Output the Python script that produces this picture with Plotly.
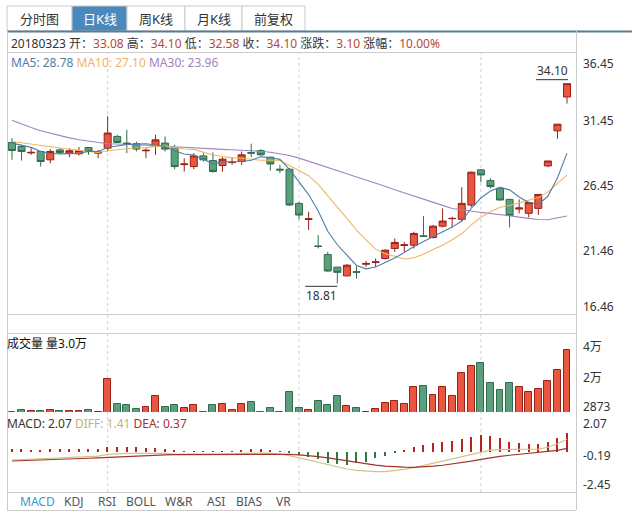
import plotly.graph_objects as go
import pandas as pd

W, H = 632, 515
def px(x): return x / W
def py(y): return 1 - y / H

# ---------------- data ----------------
idx = list(range(59))
opens = [29.60, 29.29, 28.80, 28.91, 28.27, 29.03, 28.78, 28.73, 29.21, 28.78,
         29.16, 30.06, 29.55, 29.50, 28.96, 29.29, 29.55, 29.21, 27.90, 27.75,
         28.57, 28.21, 27.83, 28.06, 28.14, 28.83, 28.98, 28.47, 27.55, 27.55,
         24.93, 23.70, 21.67, 21.01, 20.05, 19.38, 19.70, 20.27, 20.40, 20.71,
         21.48, 21.71, 21.73, 22.45, 22.32, 23.19, 23.76, 23.71, 24.81, 27.50,
         26.68, 26.09, 25.24, 24.50, 24.17, 24.55, 27.80, 30.49, 33.08]
highs = [29.93, 29.42, 29.16, 28.95, 29.09, 29.16, 29.16, 29.24, 29.25, 29.03,
         31.60, 30.19, 30.57, 29.67, 29.16, 30.19, 30.06, 29.42, 28.39, 28.78,
         28.78, 28.83, 28.47, 28.47, 28.91, 29.50, 29.09, 28.50, 27.88, 27.63,
         25.06, 24.29, 22.50, 21.22, 20.07, 20.27, 20.12, 20.53, 20.71, 21.40,
         22.25, 21.99, 22.76, 23.96, 23.27, 24.55, 23.91, 26.17, 27.37, 27.55,
         26.86, 26.17, 25.28, 25.24, 25.06, 25.62, 28.18, 31.00, 34.10]
lows = [28.27, 28.21, 28.65, 27.75, 28.01, 28.70, 28.47, 28.60, 28.65, 28.39,
        28.91, 29.55, 28.78, 28.91, 28.39, 28.65, 28.91, 27.55, 27.37, 27.55,
        28.14, 27.29, 27.37, 27.88, 27.88, 28.47, 28.57, 27.45, 27.24, 24.73,
        23.71, 22.89, 21.48, 19.70, 18.81, 19.35, 19.17, 20.07, 20.07, 20.63,
        21.22, 21.22, 21.48, 22.37, 22.25, 23.09, 23.09, 23.53, 24.63, 26.55,
        26.09, 25.14, 23.09, 24.17, 23.86, 24.04, 27.70, 29.88, 32.58]
closes = [28.98, 28.91, 28.84, 28.14, 28.91, 28.83, 28.96, 28.98, 28.91, 28.86,
          30.32, 29.60, 29.50, 29.09, 29.00, 29.80, 29.09, 27.75, 27.95, 28.57,
          28.27, 27.37, 28.32, 28.08, 28.65, 28.78, 28.65, 27.95, 27.49, 24.81,
          24.04, 23.75, 21.63, 19.75, 19.65, 20.20, 19.66, 20.33, 20.45, 21.35,
          21.94, 21.76, 22.63, 22.40, 23.19, 23.58, 23.78, 24.93, 27.32, 27.11,
          26.22, 25.19, 24.00, 24.58, 25.00, 25.62, 28.18, 31.00, 34.10]
volumes = [3080, 3870, 3180, 3450, 3870, 3270, 3450, 3450, 3870, 2990,
           17420, 6530, 5780, 4390, 5130, 9880, 5130, 5780, 4760, 6060,
           2990, 6060, 6530, 3640, 6530, 7370, 2990, 4570, 2990, 11740,
           4570, 3870, 7830, 5780, 9880, 5410, 4570, 2873, 4390, 6900,
           7830, 6530, 13790, 14260, 10340, 13790, 9880, 19840, 23000, 24310,
           15470, 12490, 15470, 13790, 11740, 12860, 16400, 21240, 30000]
# closes before the first visible day (only feed the MA5/MA10 start)
prior_closes = [29.90, 29.80, 29.70, 29.80, 29.75, 29.60, 29.80, 29.70, 29.67]
ma30 = [31.30, 31.00, 30.75, 30.50, 30.30, 30.10, 29.95, 29.80, 29.70, 29.60,
        29.50, 29.48, 29.46, 29.44, 29.42, 29.38, 29.33, 29.27, 29.22, 29.17,
        29.14, 29.10, 29.07, 29.04, 29.01, 28.98, 28.93, 28.85, 28.75, 28.60,
        28.40, 28.17, 27.94, 27.68, 27.46, 27.20, 26.96, 26.73, 26.47, 26.24,
        25.98, 25.75, 25.50, 25.27, 25.02, 24.78, 24.54, 24.42, 24.35, 24.24,
        24.17, 24.09, 23.99, 23.88, 23.78, 23.70, 23.68, 23.81, 23.96]
macd_hist = [0.25, 0.25, 0.24, 0.24, 0.25, 0.26, 0.26, 0.27, 0.28, 0.28,
             0.50, 0.55, 0.52, 0.50, 0.45, 0.42, 0.30, 0.08, 0.02, 0.02,
             0.02, 0.04, 0.01, 0.01, 0.22, 0.26, 0.26, 0.18, 0.04, -0.20,
             -0.38, -0.56, -0.87, -1.32, -1.43, -1.50, -1.32, -1.13, -0.75, -0.45,
             -0.10, 0.10, 0.49, 0.75, 1.02, 1.13, 1.24, 1.39, 1.69, 1.88,
             1.77, 1.50, 1.13, 0.94, 0.83, 0.83, 1.13, 1.50, 2.07]
diff = [-0.94, -0.89, -0.84, -0.79, -0.74, -0.69, -0.64, -0.59, -0.54, -0.49,
        -0.30, -0.22, -0.19, -0.18, -0.17, -0.16, -0.19, -0.27, -0.28, -0.27,
        -0.26, -0.26, -0.27, -0.27, -0.20, -0.17, -0.16, -0.20, -0.26, -0.45,
        -0.70, -0.95, -1.20, -1.50, -1.75, -1.95, -2.10, -2.20, -2.26, -2.24,
        -2.15, -2.00, -1.80, -1.55, -1.30, -1.05, -0.80, -0.55, -0.25, 0.00,
        0.17, 0.24, 0.25, 0.25, 0.26, 0.30, 0.50, 0.90, 1.41]
dea = [-1.05, -1.02, -0.98, -0.94, -0.90, -0.86, -0.82, -0.78, -0.74, -0.70,
       -0.64, -0.58, -0.52, -0.47, -0.43, -0.39, -0.36, -0.34, -0.33, -0.32,
       -0.31, -0.30, -0.30, -0.30, -0.29, -0.28, -0.27, -0.27, -0.27, -0.30,
       -0.36, -0.44, -0.55, -0.70, -0.87, -1.05, -1.22, -1.38, -1.52, -1.63,
       -1.71, -1.75, -1.76, -1.72, -1.64, -1.53, -1.40, -1.25, -1.07, -0.87,
       -0.68, -0.52, -0.40, -0.30, -0.21, -0.12, -0.02, 0.15, 0.37]
tabs = ["分时图", "日K线", "周K线", "月K线", "前复权"]
bottom_tabs = ["MACD", "KDJ", "RSI", "BOLL", "W&R", "ASI", "BIAS", "VR"]
price_ticks = ["36.45", "31.45", "26.45", "21.46", "16.46"]
vol_ticks = ["4万", "2万", "2873"]
macd_ticks = ["2.07", "-0.19", "-2.45"]

# ---------------- derived ----------------
s = pd.Series(prior_closes + closes)
n0 = len(prior_closes)
ma5 = s.rolling(5).mean().iloc[n0:].round(3).tolist()
ma10 = s.rolling(10).mean().iloc[n0:].round(3).tolist()

RED_FILL, RED_LINE = "#ea5740", "#9a1f17"
GRN_FILL, GRN_LINE = "#5c9f7c", "#2f6c4d"
C_MA5, C_MA10, C_MA30 = "#4f7ea6", "#eeb664", "#a183bd"
C_DIFF, C_DEA = "#d2c486", "#a3342a"
VAL_RED = "#b9473c"
FONT = "Noto Sans, Noto Sans CJK SC, sans-serif"

up = [c > o for o, c in zip(opens, closes)]

fig = go.Figure()
fig.add_trace(go.Candlestick(
    x=idx, open=opens, high=highs, low=lows, close=closes,
    increasing=dict(line=dict(color=RED_LINE, width=1), fillcolor=RED_FILL),
    decreasing=dict(line=dict(color=GRN_LINE, width=1), fillcolor=GRN_FILL),
    whiskerwidth=0, xaxis="x", yaxis="y", hoverinfo="skip"))
for vals, col in [(ma30, C_MA30), (ma10, C_MA10), (ma5, C_MA5)]:
    fig.add_trace(go.Scatter(x=idx, y=vals, mode="lines",
                             line=dict(color=col, width=1.1), xaxis="x", yaxis="y"))
fig.add_trace(go.Bar(
    x=idx, y=volumes, width=0.72, xaxis="x2", yaxis="y2",
    marker=dict(color=[RED_FILL if u else GRN_FILL for u in up],
                line=dict(color=[RED_LINE if u else GRN_LINE for u in up], width=1))))
fig.add_trace(go.Bar(
    x=idx, y=macd_hist, width=0.15, xaxis="x3", yaxis="y3",
    marker=dict(color=["#b8231d" if v >= 0 else "#2e7a3e" for v in macd_hist],
                line=dict(width=0))))
fig.add_trace(go.Scatter(x=idx, y=diff, mode="lines", line=dict(color=C_DIFF, width=1.2),
                         xaxis="x3", yaxis="y3"))
fig.add_trace(go.Scatter(x=idx, y=dea, mode="lines", line=dict(color=C_DEA, width=1.2),
                         xaxis="x3", yaxis="y3"))

xr = [-0.52, 58.94]
xdom = [px(7), px(576)]
ax_common = dict(range=xr, domain=xdom, visible=False, showgrid=False, zeroline=False, fixedrange=True)
yc = dict(visible=False, showgrid=False, zeroline=False, fixedrange=True)

fig.update_layout(
    width=W, height=H, margin=dict(l=0, r=0, t=0, b=0),
    paper_bgcolor="white", plot_bgcolor="white", showlegend=False,
    font=dict(family=FONT, size=12, color="#333"),
    xaxis=dict(**ax_common, anchor="y", rangeslider=dict(visible=False)),
    xaxis2=dict(**ax_common, anchor="y2"),
    xaxis3=dict(**ax_common, anchor="y3"),
    yaxis=dict(**yc, domain=[py(314), py(53)], range=[16.46, 36.45]),
    yaxis2=dict(**yc, domain=[py(412), py(333)], range=[2873, 37435]),
    yaxis3=dict(**yc, domain=[py(492), py(412)], range=[-4.55, 4.48]),
    bargap=0, boxgap=0.27, boxgroupgap=0, hovermode=False,
)

shapes = []
def hline(y, x0, x1, color="#cccccc", width=1):
    shapes.append(dict(type="line", xref="paper", yref="paper", x0=px(x0), x1=px(x1),
                       y0=py(y), y1=py(y), line=dict(color=color, width=width)))
def vline(x, y0, y1, color="#cccccc", width=1):
    shapes.append(dict(type="line", xref="paper", yref="paper", x0=px(x), x1=px(x),
                       y0=py(y0), y1=py(y1), line=dict(color=color, width=width)))

# tabs
tab_edges = [7, 72, 127, 185, 242, 305]
for k in range(len(tabs)):
    sel = k == 1
    shapes.append(dict(type="rect", xref="paper", yref="paper",
                       x0=px(tab_edges[k]), x1=px(tab_edges[k + 1]), y0=py(31), y1=py(6),
                       fillcolor="#4a89be" if sel else "#ffffff",
                       line=dict(color="#c9c9c9", width=1), layer="below"))
hline(31.5, 7, 632, color="#5b7b8f", width=2)
vline(7.5, 31, 510)
vline(576.5, 31, 510)
for y in [52.5, 314.5, 333.5, 492.5, 510.5]:
    hline(y, 7, 576)
# month separators (dotted)
for i in [10, 30, 49]:
    shapes.append(dict(type="line", xref="x", yref="paper", x0=i, x1=i, y0=py(492), y1=py(53),
                       line=dict(color="#cfcfcf", width=1, dash="dot"), layer="below"))
# max / min markers
imax = highs.index(max(highs))
imin = lows.index(min(lows))
shapes.append(dict(type="line", xref="x", yref="y", xsizemode="pixel", ysizemode="pixel",
                   xanchor=imax, yanchor=highs[imax], x0=-31, x1=1, y0=4, y1=4,
                   line=dict(color="#333", width=1)))
shapes.append(dict(type="line", xref="x", yref="y", xsizemode="pixel", ysizemode="pixel",
                   xanchor=imin, yanchor=lows[imin], x0=-32, x1=0, y0=-3, y1=-3,
                   line=dict(color="#333", width=1)))
fig.update_layout(shapes=shapes)

ann = []
def text(x, y, t, anchor="left", size=12, color="#333"):
    ann.append(dict(xref="paper", yref="paper", x=px(x), y=py(y), text=t, showarrow=False,
                    xanchor=anchor, yanchor="middle", font=dict(size=size, color=color, family=FONT),
                    borderpad=0))

tab_centers = [(tab_edges[k] + tab_edges[k + 1]) / 2 for k in range(len(tabs))]
for k, t in enumerate(tabs):
    text(tab_centers[k], 19, t, anchor="center", size=13, color="white" if k == 1 else "#333")

def v(x):
    return f"<span style='color:{VAL_RED}'>{x}</span>"
chg = closes[-1] - closes[-2]
pct = chg / closes[-2] * 100
info = (f"20180323 开：{v(f'{opens[-1]:.2f}')} 高：{v(f'{highs[-1]:.2f}')} "
        f"低：{v(f'{lows[-1]:.2f}')} 收：{v(f'{closes[-1]:.2f}')} "
        f"涨跌：{v(f'{chg:.2f}')} 涨幅：{v(f'{pct:.2f}%')}")
text(10, 43, info)
ma_txt = (f"<span style='color:{C_MA5}'>MA5: {ma5[-1]:.2f}</span> "
          f"<span style='color:{C_MA10}'>MA10: {ma10[-1]:.2f}</span> "
          f"<span style='color:{C_MA30}'>MA30: {ma30[-1]:.2f}</span>")
text(10, 62, ma_txt)
text(6, 343, f"成交量 量{volumes[-1] / 10000:.1f}万", color="#111")
macd_txt = (f"<span style='color:#333'>MACD: {macd_hist[-1]:.2f}</span> "
            f"<span style='color:#c4b466'>DIFF: {diff[-1]:.2f}</span> "
            f"<span style='color:#a8302a'>DEA: {dea[-1]:.2f}</span>")
text(6, 423, macd_txt)

for t, y in zip(price_ticks, [64, 121, 185, 250, 306]):
    text(582, y, t)
for t, y in zip(vol_ticks, [346, 377, 406]):
    text(582, y, t)
for t, y in zip(macd_ticks, [423, 455, 484]):
    text(582, y, t)

btab_centers = [37, 73, 107, 141, 179, 216, 249, 283]
for k, t in enumerate(bottom_tabs):
    text(btab_centers[k], 501, t, anchor="center", color="#3a9ad0" if k == 0 else "#555")

# max/min labels tied to data
ann.append(dict(xref="x", yref="y", x=imax, y=highs[imax], text=f"{highs[imax]:.2f}",
                showarrow=False, xanchor="right", yanchor="bottom", xshift=2, yshift=4,
                font=dict(size=12, color="#333", family=FONT), borderpad=0))
ann.append(dict(xref="x", yref="y", x=imin, y=lows[imin], text=f"{lows[imin]:.2f}",
                showarrow=False, xanchor="right", yanchor="top", xshift=1, yshift=-3,
                font=dict(size=12, color="#333", family=FONT), borderpad=0))
fig.update_layout(annotations=ann)

fig.write_html("out.html")
